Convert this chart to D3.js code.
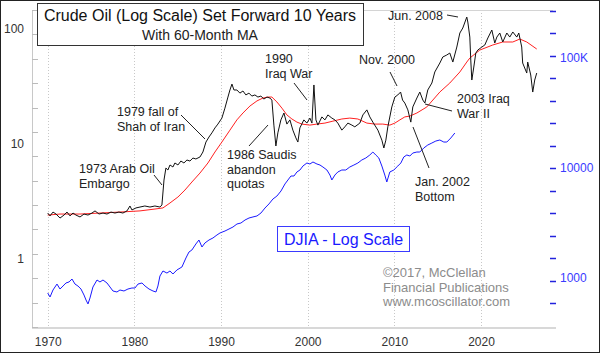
<!DOCTYPE html>
<html lang="en">
<head>
<meta charset="UTF-8">
<title>Crude Oil (Log Scale) Set Forward 10 Years</title>
<script src="https://d3js.org/d3.v7.min.js"></script>
<style>
    body { margin: 0; background: #fff; }
    svg text { font-family: "Liberation Sans", Arial, sans-serif; }
</style>
</head>
<body>
<div id="chart"></div>
<script>
    // crude oil, actual dates (plotted shifted forward by shiftYears)
    const shiftYears = 10;
    const oilYears = [1960.00, 1960.27, 1960.61, 1960.96, 1961.42, 1961.88, 1962.23, 1962.57, 1962.92, 1963.26,
        1963.73, 1964.19, 1964.65, 1965.11, 1965.46, 1965.92, 1966.38, 1966.84, 1967.30, 1967.76,
        1968.22, 1968.68, 1969.15, 1969.49, 1969.72, 1970.19, 1970.65, 1971.21, 1971.80, 1972.37,
        1972.95, 1973.18, 1973.42, 1973.64, 1973.87, 1974.11, 1974.45, 1974.68, 1975.03, 1975.37,
        1975.72, 1976.07, 1976.41, 1976.76, 1977.10, 1977.57, 1977.91, 1978.26, 1978.61, 1978.95,
        1979.30, 1979.64, 1980.10, 1980.45, 1980.80, 1981.03, 1981.26, 1981.49, 1981.83, 1982.18,
        1982.53, 1982.87, 1983.22, 1983.56, 1983.91, 1984.26, 1984.60, 1984.95, 1985.30, 1985.64,
        1985.87, 1986.10, 1986.33, 1986.56, 1986.91, 1987.26, 1987.60, 1987.95, 1988.29, 1988.64,
        1988.87, 1989.10, 1989.56, 1989.91, 1990.25, 1990.49, 1990.72, 1990.95, 1991.18, 1991.64,
        1991.99, 1992.33, 1992.79, 1993.14, 1993.48, 1993.94, 1994.29, 1994.64, 1995.10, 1995.44,
        1996.02, 1996.37, 1996.83, 1997.17, 1997.52, 1998.10, 1998.56, 1998.79, 1999.02, 1999.25,
        1999.71, 2000.06, 2000.40, 2000.72, 2000.95, 2001.21, 2001.56, 2001.90, 2002.13, 2002.60,
        2002.94, 2003.29, 2003.52, 2003.86, 2004.33, 2004.67, 2005.25, 2005.59, 2006.05, 2006.40,
        2006.75, 2007.21, 2007.56, 2007.90, 2008.36, 2008.48, 2008.71, 2008.82, 2008.94, 2009.17,
        2009.40, 2009.63, 2010.10, 2010.44, 2010.79, 2011.25, 2011.59, 2011.83, 2012.17, 2012.51,
        2012.98, 2013.32, 2013.67, 2014.13, 2014.36, 2014.70, 2014.81, 2015.28, 2015.39, 2015.74,
        2015.97, 2016.20, 2016.43];
    const oilPrices = [2.51, 2.37, 2.56, 2.46, 2.27, 2.41, 2.56, 2.37, 2.51, 2.41,
        2.32, 2.46, 2.41, 2.51, 2.62, 2.46, 2.51, 2.46, 2.56, 2.51,
        2.56, 2.51, 2.62, 2.89, 2.67, 2.78, 2.83, 2.89, 2.83, 2.89,
        2.83, 2.95, 4.86, 6.18, 5.94, 6.57, 6.31, 6.84, 6.57, 7.11,
        6.84, 7.26, 7.11, 7.55, 7.41, 7.71, 8.52, 10.4, 11.5, 12.5,
        13.8, 14.9, 16.8, 20.5, 25.6, 29.5, 33.2, 29.5, 29.5, 27.7,
        28.9, 26.7, 27.7, 26.1, 26.7, 25.6, 26.1, 24.6, 25.6, 25.1,
        24.1, 14.6, 9.61, 12.5, 16.2, 18.6, 14.9, 16.2, 13.2, 11.3,
        10.4, 13.8, 16.2, 15.2, 16.8, 15.2, 32.6, 16.2, 14.6, 17.2,
        16.2, 17.9, 16.8, 16.2, 15.2, 13.2, 14.1, 15.2, 14.6, 14.1,
        15.2, 17.9, 19.8, 17.2, 15.5, 13.2, 10.8, 9.23, 10.8, 14.1,
        21.0, 25.6, 26.7, 28.3, 24.1, 22.7, 19.8, 15.5, 21.0, 25.1,
        28.3, 24.1, 22.7, 29.5, 33.9, 42.3, 50.6, 57.1, 59.4, 61.8,
        51.6, 69.7, 92.3, 102, 127, 115, 85.1, 53.7, 36.0, 46.7,
        61.8, 65.6, 69.7, 72.6, 83.5, 98.0, 75.5, 85.1, 92.3, 77.1,
        92.3, 85.1, 94.2, 85.1, 92.3, 69.7, 50.6, 41.4, 51.6, 39.8,
        28.3, 36.0, 41.4];

    // 60-month moving average of oil, actual dates
    const maYears = [1960.00, 1961.42, 1963.73, 1966.03, 1968.34, 1970.65, 1972.38, 1973.30, 1974.11, 1975.03,
        1975.84, 1976.64, 1977.57, 1978.49, 1979.30, 1980.10, 1981.03, 1981.83, 1982.53, 1983.34,
        1984.15, 1984.84, 1985.42, 1985.87, 1986.45, 1987.03, 1987.60, 1988.18, 1988.76, 1989.33,
        1990.25, 1991.06, 1991.99, 1992.91, 1993.94, 1994.86, 1995.79, 1996.83, 1997.75, 1998.67,
        1999.48, 2000.06, 2000.64, 2001.21, 2001.79, 2002.60, 2003.75, 2005.25, 2006.40, 2007.56,
        2008.36, 2008.71, 2009.86, 2011.36, 2012.51, 2013.67, 2014.48, 2015.28, 2016.43];
    const maValues = [2.41, 2.46, 2.46, 2.51, 2.56, 2.62, 2.72, 2.78, 3.07, 3.46,
        3.98, 4.67, 5.59, 6.84, 8.52, 10.4, 13.2, 16.2, 18.6, 21.4,
        23.7, 25.1, 25.6, 25.6, 23.2, 20.5, 17.9, 16.5, 15.5, 14.9,
        14.6, 14.9, 15.2, 15.8, 16.5, 16.8, 16.5, 15.2, 14.9, 14.9,
        14.6, 15.2, 16.2, 17.2, 17.5, 18.6, 21.0, 28.3, 33.9, 42.3,
        51.6, 55.9, 65.6, 72.6, 77.1, 77.1, 81.8, 77.1, 67.0];

    // Dow Jones Industrial Average (right scale)
    const djiaYears = [1970.00, 1970.27, 1970.61, 1971.07, 1971.42, 1971.77, 1972.11, 1972.46, 1972.80, 1973.15,
        1973.49, 1973.84, 1974.19, 1974.42, 1974.65, 1974.88, 1975.22, 1975.69, 1976.03, 1976.38,
        1976.84, 1977.19, 1977.53, 1977.99, 1978.34, 1978.80, 1979.26, 1979.72, 1980.07, 1980.42,
        1980.88, 1981.23, 1981.69, 1982.15, 1982.49, 1982.72, 1982.95, 1983.30, 1983.76, 1984.11,
        1984.45, 1984.91, 1985.49, 1985.95, 1986.30, 1986.64, 1987.10, 1987.45, 1987.80, 1988.14,
        1988.61, 1989.07, 1989.53, 1989.88, 1990.46, 1990.92, 1991.38, 1991.84, 1992.30, 1992.77,
        1993.23, 1993.69, 1994.15, 1994.61, 1995.07, 1995.53, 1995.99, 1996.45, 1996.92, 1997.38,
        1997.72, 1998.07, 1998.42, 1998.76, 1999.11, 1999.45, 1999.91, 2000.26, 2000.61, 2001.07,
        2001.42, 2001.76, 2002.22, 2002.57, 2002.79, 2003.14, 2003.48, 2003.94, 2004.40, 2004.86,
        2005.33, 2005.79, 2006.25, 2006.71, 2007.17, 2007.52, 2007.86, 2008.21, 2008.56, 2008.90,
        2009.13, 2009.48, 2009.94, 2010.40, 2010.75, 2011.09, 2011.44, 2011.79, 2012.13, 2012.60,
        2012.94, 2013.40, 2013.86, 2014.33, 2014.79, 2015.25, 2015.71, 2016.06, 2016.52, 2016.98];
    const djiaValues = [731, 672, 778, 881, 794, 846, 901, 920, 979, 881,
        846, 794, 700, 631, 581, 658, 828, 959, 920, 959,
        901, 828, 762, 746, 778, 762, 794, 811, 811, 881,
        901, 846, 794, 762, 746, 846, 1042, 1158, 1109, 1158,
        1087, 1183, 1259, 1520, 1722, 1797, 2038, 2215, 1914, 2080,
        2215, 2311, 2460, 2566, 2675, 2789, 2908, 3097, 3162, 3367,
        3511, 3589, 3663, 3899, 4325, 4710, 5224, 5559, 6180, 7161,
        7780, 8458, 8458, 9200, 9590, 10420, 11100, 10870, 11340, 10870,
        10640, 10210, 9590, 8630, 7780, 8630, 9200, 9590, 9590, 10210,
        10640, 11100, 11830, 12330, 13130, 13970, 13130, 12330, 10420, 8630,
        7460, 9200, 9590, 10420, 11100, 12590, 13130, 12850, 13680, 13970,
        13970, 15200, 16180, 16870, 17590, 17970, 17220, 17220, 18750, 20800];

    const xTicks = [1970, 1980, 1990, 2000, 2010, 2020];
    const oilTicks = [1, 10, 100];
    const djiaTicks = [1000, 10000, 100000];

    const annotations = [
        { lines: ["1973 Arab Oil", "Embargo"], x: 79, y: 173, from: [154, 175], to: [162, 185] },
        { lines: ["1979 fall of", "Shah of Iran"], x: 117, y: 116, from: [181, 115], to: [205, 139] },
        { lines: ["1986 Saudis", "abandon", "quotas"], x: 227, y: 159, from: [249, 146], to: [268, 125] },
        { lines: ["1990", "Iraq War"], x: 265, y: 63, from: [294, 83], to: [307, 100] },
        { lines: ["Nov. 2000"], x: 359, y: 64, from: [390, 72], to: [397, 86] },
        { lines: ["Jun. 2008"], x: 388, y: 20, from: [447, 15], to: [458, 17] },
        { lines: ["2003 Iraq", "War II"], x: 457, y: 103, from: [452, 111], to: [425, 104] },
        { lines: ["Jan. 2002", "Bottom"], x: 415, y: 186, from: [429, 168], to: [413, 127] }
    ];

    const width = 600;
    const height = 353;
    const plot = { left: 32, right: 553, top: 10, bottom: 327 };

    const svg = d3.select("#chart")
        .append("svg")
        .attr("width", width)
        .attr("height", height);

    svg.append("rect")
        .attr("x", 0.5).attr("y", 0.5)
        .attr("width", width - 1).attr("height", height - 1)
        .attr("fill", "#fff")
        .attr("stroke", "#222");

    const x = d3.scaleLinear().domain([1970, 2020]).range([47.7, 481]);
    const yOil = d3.scaleLog().domain([1, 100]).range([259, 29]);
    const yDow = d3.scaleLog().domain([1000, 100000]).range([278, 58]);

    // vertical dotted grid
    svg.append("g")
        .selectAll("line")
        .data(xTicks)
        .join("line")
        .attr("x1", d => Math.round(x(d)) + 0.5).attr("x2", d => Math.round(x(d)) + 0.5)
        .attr("y1", plot.top).attr("y2", plot.bottom)
        .attr("stroke", "#c8c8c8")
        .attr("stroke-dasharray", "1,2");

    // frame
    svg.append("line")
        .attr("x1", plot.left).attr("x2", plot.right)
        .attr("y1", plot.top + 0.5).attr("y2", plot.top + 0.5)
        .attr("stroke", "#d4d4d4");
    svg.append("line")
        .attr("x1", plot.left + 0.5).attr("x2", plot.left + 0.5)
        .attr("y1", plot.top).attr("y2", plot.bottom)
        .attr("stroke", "#c8c8c8");
    svg.append("line")
        .attr("x1", plot.left).attr("x2", plot.right + 3)
        .attr("y1", plot.bottom + 1).attr("y2", plot.bottom + 1)
        .attr("stroke", "#d8d8d8")
        .attr("stroke-width", 2);

    // evenly spaced minor ticks on both sides
    const leftTickY = d3.range(14).map(i => plot.top + i * (plot.bottom - plot.top) / 13);
    svg.append("g")
        .selectAll("line")
        .data(leftTickY)
        .join("line")
        .attr("x1", plot.left).attr("x2", plot.left + 6)
        .attr("y1", d => Math.round(d) + 0.5).attr("y2", d => Math.round(d) + 0.5)
        .attr("stroke", "#bbb");

    const rightTickY = d3.range(14).map(i => 10.7 + i * 22.5);
    svg.append("g")
        .selectAll("line")
        .data(rightTickY)
        .join("line")
        .attr("x1", 550).attr("x2", 556)
        .attr("y1", d => Math.round(d) + 0.5).attr("y2", d => Math.round(d) + 0.5)
        .attr("stroke", "#2222dd")
        .attr("stroke-width", 1.5);

    // axes
    const xAxis = svg.append("g")
        .attr("transform", `translate(0, ${plot.bottom})`)
        .call(d3.axisBottom(x).tickValues(xTicks).tickFormat(d3.format("d")).tickSize(0).tickPadding(10));
    xAxis.select(".domain").remove();
    xAxis.selectAll("text").attr("font-size", 12).attr("fill", "#333");

    const leftAxis = svg.append("g")
        .attr("transform", `translate(${plot.left}, 0)`)
        .call(d3.axisLeft(yOil).tickValues(oilTicks).tickFormat(d3.format("d")).tickSize(0).tickPadding(8));
    leftAxis.select(".domain").remove();
    leftAxis.selectAll("text").attr("font-size", 12).attr("fill", "#333");

    const rightAxis = svg.append("g")
        .attr("transform", `translate(${plot.right}, 0)`)
        .call(d3.axisRight(yDow).tickValues(djiaTicks)
            .tickFormat(d => d === 100000 ? "100K" : String(d)).tickSize(0).tickPadding(7));
    rightAxis.select(".domain").remove();
    rightAxis.selectAll("text").attr("font-size", 12).attr("fill", "#3a3aff");

    // series
    const oilLine = d3.line()
        .x(d => x(d[0] + shiftYears))
        .y(d => yOil(d[1]));

    svg.append("path")
        .datum(d3.zip(maYears, maValues))
        .attr("d", oilLine)
        .attr("fill", "none")
        .attr("stroke", "#ff2020")
        .attr("stroke-width", 1);

    svg.append("path")
        .datum(d3.zip(oilYears, oilPrices))
        .attr("d", oilLine)
        .attr("fill", "none")
        .attr("stroke", "#111")
        .attr("stroke-width", 1);

    svg.append("path")
        .datum(d3.zip(djiaYears, djiaValues))
        .attr("d", d3.line().x(d => x(d[0])).y(d => yDow(d[1])))
        .attr("fill", "none")
        .attr("stroke", "#1a1aff")
        .attr("stroke-width", 1);

    // title box
    svg.append("rect")
        .attr("x", 37.5).attr("y", 3.5)
        .attr("width", 326).attr("height", 42)
        .attr("fill", "#fff")
        .attr("stroke", "#333");
    svg.append("text")
        .attr("x", 200).attr("y", 21)
        .attr("text-anchor", "middle")
        .attr("font-size", 16)
        .attr("fill", "#111")
        .text("Crude Oil (Log Scale) Set Forward 10 Years");
    svg.append("text")
        .attr("x", 200).attr("y", 40)
        .attr("text-anchor", "middle")
        .attr("font-size", 14)
        .attr("fill", "#222")
        .text("With 60-Month MA");

    // DJIA label box
    svg.append("rect")
        .attr("x", 277.5).attr("y", 226.5)
        .attr("width", 132).attr("height", 25)
        .attr("fill", "#fff")
        .attr("stroke", "#3a3aff");
    svg.append("text")
        .attr("x", 343.5).attr("y", 245)
        .attr("text-anchor", "middle")
        .attr("font-size", 16)
        .attr("fill", "#1a1aff")
        .text("DJIA - Log Scale");

    // annotations
    annotations.forEach(a => {
        svg.append("line")
            .attr("x1", a.from[0]).attr("y1", a.from[1])
            .attr("x2", a.to[0]).attr("y2", a.to[1])
            .attr("stroke", "#222");
        const t = svg.append("text")
            .attr("font-size", 12.5)
            .attr("fill", "#222");
        a.lines.forEach((s, i) => {
            t.append("tspan").attr("x", a.x).attr("y", a.y + i * 14.5).text(s);
        });
    });

    // credit
    const credit = svg.append("text")
        .attr("font-size", 13)
        .attr("fill", "#8c8c8c");
    ["\u00a92017, McClellan", "Financial Publications", "www.mcoscillator.com"].forEach((s, i) => {
        credit.append("tspan").attr("x", 383).attr("y", 277 + i * 14.5).text(s);
    });
</script>
</body>
</html>
